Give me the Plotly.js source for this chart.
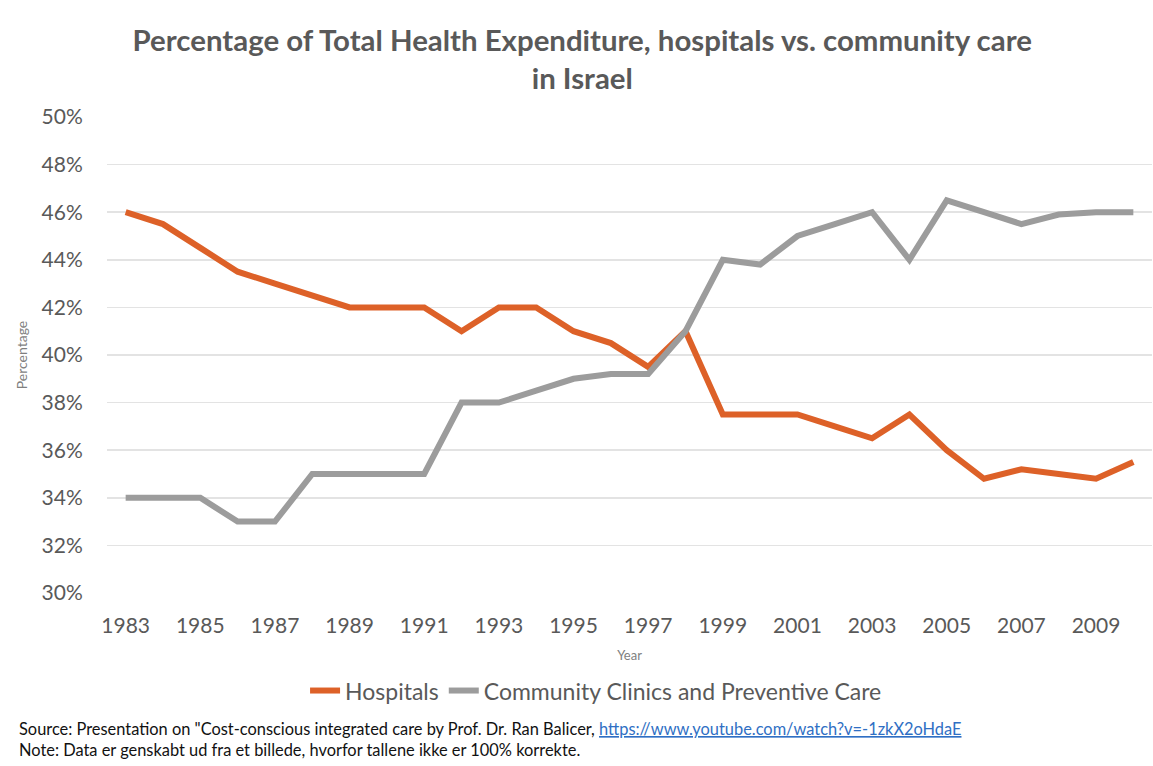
<!DOCTYPE html>
<html>
<head>
<meta charset="utf-8">
<script src="https://cdn.plot.ly/plotly-3.0.1.min.js"></script>
<style>html,body{margin:0;padding:0;background:#fff;}#chart{width:1153px;height:766px;}</style>
</head>
<body>
<div id="chart"></div>
<script>
const years = [1983,1984,1985,1986,1987,1988,1989,1990,1991,1992,1993,1994,1995,1996,1997,1998,1999,2000,2001,2002,2003,2004,2005,2006,2007,2008,2009,2010];
const hospitals = [46.0,45.5,44.5,43.5,43.0,42.5,42.0,42.0,42.0,41.0,42.0,42.0,41.0,40.5,39.5,41.0,37.5,37.5,37.5,37.0,36.5,37.5,36.0,34.8,35.2,35.0,34.8,35.5];
const community = [34.0,34.0,34.0,33.0,33.0,35.0,35.0,35.0,35.0,38.0,38.0,38.5,39.0,39.2,39.2,41.0,44.0,43.8,45.0,45.5,46.0,44.0,46.5,46.0,45.5,45.9,46.0,46.0];
const xTickVals = [1983,1985,1987,1989,1991,1993,1995,1997,1999,2001,2003,2005,2007,2009];
const seriesNames = ['Hospitals','Community Clinics and Preventive Care'];
const titleText = '<b>Percentage of Total Health Expenditure, hospitals vs. community care<br>in Israel</b>';
const sourceText = 'Source: Presentation on "Cost-conscious integrated care by Prof. Dr. Ran Balicer, <span style="color:#2f6fc4"><u>https://www.youtube.com/watch?v=-1zkX2oHdaE</u></span>';
const noteText = 'Note: Data er genskabt ud fra et billede, hvorfor tallene ikke er 100% korrekte.';

const FONT = 'Lato, "Open Sans", sans-serif';
const traces = [
  {x: years, y: hospitals, name: seriesNames[0], type: 'scatter', mode: 'lines',
   line: {color: '#DD6128', width: 6, shape: 'linear'}},
  {x: years, y: community, name: seriesNames[1], type: 'scatter', mode: 'lines',
   line: {color: '#9C9C9C', width: 6, shape: 'linear'}}
];
const layout = {
  width: 1153, height: 766,
  paper_bgcolor: '#fff', plot_bgcolor: '#fff',
  margin: {l: 107, r: 1, t: 117, b: 173},
  font: {family: FONT, color: '#595959'},
  title: {text: titleText, x: 0.505, xanchor: 'center', y: 0.934, yanchor: 'top',
          font: {size: 29.4, color: '#595959', family: FONT}},
  xaxis: {range: [1982.5, 2010.5], tickvals: xTickVals, ticktext: xTickVals.map(String),
          showgrid: false, zeroline: false, showline: false,
          ticks: 'outside', ticklen: 14, tickcolor: 'rgba(0,0,0,0)',
          tickfont: {size: 21, color: '#595959'},
          title: {text: 'Year', font: {size: 13, color: '#7f7f7f'}, standoff: 14}},
  yaxis: {range: [30, 50], dtick: 2, ticksuffix: '%', tickformat: 'd',
          showgrid: true, gridcolor: '#E3E3E3', gridwidth: 1.5, zeroline: false, showline: false,
          ticks: 'outside', ticklen: 19, tickcolor: 'rgba(0,0,0,0)',
          tickfont: {size: 21, color: '#595959'},
          title: {text: 'Percentage', font: {size: 14, color: '#7f7f7f'}, standoff: 10}},
  showlegend: true,
  legend: {orientation: 'h', x: 0.468, xanchor: 'center', y: -0.205, yanchor: 'middle',
           font: {size: 23, color: '#595959'}, itemwidth: 30, tracegroupgap: 0},
  annotations: [
    {xref: 'paper', yref: 'paper', x: -0.086, y: -0.285, xanchor: 'left', yanchor: 'middle',
     showarrow: false, align: 'left', text: sourceText, font: {size: 16.4, color: '#111', family: FONT}},
    {xref: 'paper', yref: 'paper', x: -0.086, y: -0.329, xanchor: 'left', yanchor: 'middle',
     showarrow: false, align: 'left', text: noteText, font: {size: 16.4, color: '#111', family: FONT}}
  ]
};
Plotly.newPlot('chart', traces, layout, {displayModeBar: false, staticPlot: true});
</script>
</body>
</html>
